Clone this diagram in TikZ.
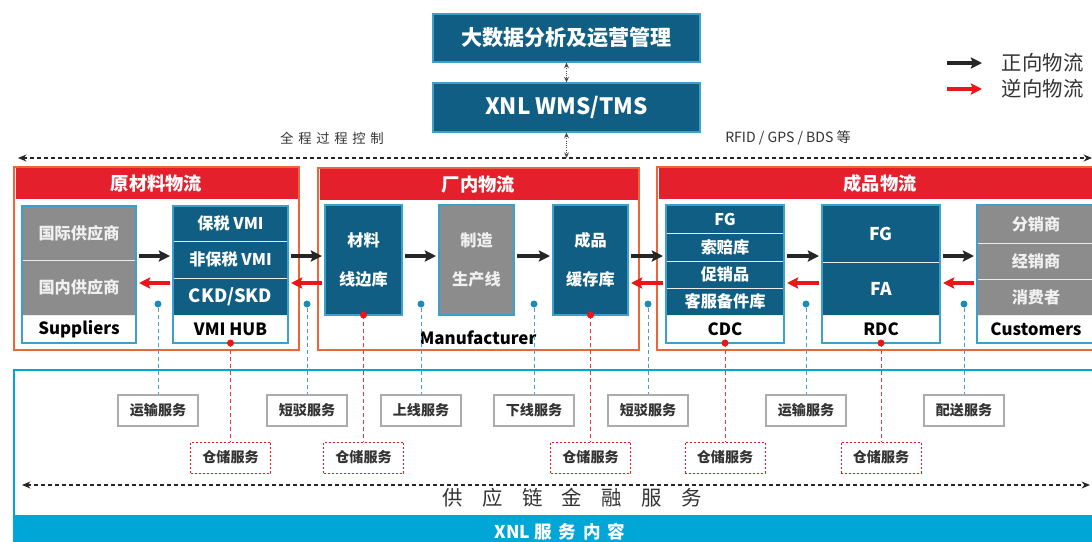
\documentclass[tikz,border=0pt]{standalone}
\usepackage{fontspec}
\setmainfont{Noto Sans CJK SC}
\usetikzlibrary{shapes, arrows, arrows.meta, positioning}

\newdimen\pxu
\pxu=0.025cm

\definecolor{navy}{RGB}{16,94,131}
\definecolor{boxgray}{RGB}{140,140,140}
\definecolor{headred}{RGB}{228,32,44}
\definecolor{rim}{RGB}{237,102,57}
\definecolor{edge}{RGB}{60,160,205}
\definecolor{band}{RGB}{0,166,214}
\definecolor{dotblue}{RGB}{27,139,184}
\definecolor{backred}{RGB}{236,22,22}
\definecolor{txtgray}{RGB}{51,51,51}

\tikzset{
  cell/.style={draw=white!85!gray, line width=0.6pt, inner sep=0pt, outer sep=0pt,
    text=white, font=\bfseries\fontsize{11.5}{13}\selectfont},
  bluecell/.style={cell, fill=navy},
  graycell/.style={cell, fill=boxgray, text=white!94!black},
  namecell/.style={cell, fill=white, text=black, font=\bfseries\fontsize{12}{14}\selectfont},
  frame/.style={draw=edge, line width=0.8pt},
  topbox/.style={fill=navy, draw=edge, line width=0.8pt, minimum width=267\pxu,
    text=white, font=\bfseries\fontsize{15}{17}\selectfont},
  panel/.style={draw=rim, line width=1.2pt, inner sep=0pt},
  header/.style={fill=headred, text=white, inner sep=0pt, minimum height=31\pxu,
    font=\bfseries\fontsize{13}{15}\selectfont},
  fwd/.style={line width=2.5pt, black!85, shorten <=3\pxu, shorten >=3\pxu,
    -{Stealth[length=8pt, width=8pt, inset=1.5pt]}},
  back/.style={fwd, backred},
  ctrl/.style={line width=0.8pt, dash pattern=on 4\pxu off 3\pxu, black!85,
    {Stealth[length=6pt, width=5pt]}-{Stealth[length=6pt, width=5pt]}},
  link/.style={densely dotted, line width=0.6pt, black!70,
    {Stealth[length=4pt, width=3.5pt]}-{Stealth[length=4pt, width=3.5pt]}},
  note/.style={text=txtgray, font=\fontsize{9.5}{11}\selectfont},
  legend/.style={text=txtgray, anchor=west, font=\fontsize{14.5}{16}\selectfont},
  bdot/.style={circle, fill=dotblue, inner sep=0pt, minimum size=7\pxu},
  rdot/.style={circle, fill=backred, inner sep=0pt, minimum size=7\pxu},
  bline/.style={draw=dotblue!80, line width=0.7pt, dash pattern=on 4\pxu off 3\pxu},
  rline/.style={draw=backred!85, line width=0.7pt, dash pattern=on 4\pxu off 3\pxu},
  svc/.style={draw=gray!65, line width=1pt, fill=white, minimum width=80\pxu,
    minimum height=31\pxu, text=txtgray, font=\bfseries\fontsize{10}{12}\selectfont},
  store/.style={svc, draw=backred, line width=0.7pt, dash pattern=on 2\pxu off 2\pxu}
}

\begin{document}
\begin{tikzpicture}[x=0.025cm, y=-0.025cm]
\useasboundingbox[fill=white] (0,0) rectangle (1092,541);

\node[topbox, minimum height=48\pxu] (bigdata) at (566.5,38) {大数据分析及运营管理};
\node[topbox, minimum height=49\pxu, font=\bfseries\fontsize{16}{18}\selectfont] (wms) at (566.5,107.5) {XNL WMS/TMS};
\coordinate (ctrlL) at (18,158);
\coordinate (ctrlR) at (1092,158);
\draw[ctrl] (ctrlL) -- (ctrlR);
\draw[link] (bigdata) -- (wms);
\draw[link] (wms) -- (wms.south |- ctrlL);
\node[note] (ctrlnote) at (332,138) {\addfontfeature{LetterSpace=35}全程过程控制};
\node[note, font=\fontsize{10}{12}\selectfont] (technote) at (788,138) {RFID / GPS / BDS 等};

\coordinate (fwdA) at (947,63);
\coordinate (fwdB) at (982,63);
\coordinate (backA) at (947,89);
\coordinate (backB) at (982,89);
\draw[fwd, shorten <=0pt, shorten >=0pt] (fwdA) -- (fwdB);
\draw[back, shorten <=0pt, shorten >=0pt] (backA) -- (backB);
\node[legend] (fwdtext) at (997,63) {正向物流};
\node[legend] (backtext) at (997,89) {逆向物流};

\node[panel, minimum width=285\pxu, minimum height=183\pxu] (rawpanel) at (156.5,258.5) {};
\node[header, minimum width=282\pxu, below=1.5\pxu of rawpanel.north] (rawhead) {原材料物流};
\node[panel, minimum width=321\pxu, minimum height=182\pxu] (plantpanel) at (478.5,259) {};
\node[header, minimum width=318\pxu, below=1.5\pxu of plantpanel.north] (planthead) {厂内物流};
\node[panel, minimum width=446\pxu, minimum height=183\pxu] (goodspanel) at (880,258.5) {};
\node[header, minimum width=443\pxu, below=1.5\pxu of goodspanel.north] (goodshead) {成品物流};

\node[graycell, minimum width=114\pxu, minimum height=54\pxu] (sup1) at (79,233) {国际供应商};
\node[graycell, minimum width=114\pxu, minimum height=55\pxu, below=0pt of sup1] (sup2) {国内供应商};
\node[namecell, minimum width=114\pxu, minimum height=28\pxu, below=0pt of sup2] (supN) {Suppliers};
\draw[frame] (sup1.north west) rectangle (supN.south east);

\node[bluecell, minimum width=115\pxu, minimum height=35\pxu] (vmi1) at (230.5,223.5) {保税 VMI};
\node[bluecell, minimum width=115\pxu, minimum height=37\pxu, below=0pt of vmi1] (vmi2) {非保税 VMI};
\node[bluecell, minimum width=115\pxu, minimum height=37\pxu, below=0pt of vmi2,
      font=\bfseries\fontsize{13}{15}\selectfont] (vmi3) {CKD/SKD};
\node[namecell, minimum width=115\pxu, minimum height=28\pxu, below=0pt of vmi3] (vmiN) {VMI HUB};
\draw[frame] (vmi1.north west) rectangle (vmiN.south east);

\node[bluecell, frame, minimum width=77\pxu, minimum height=110\pxu, align=center,
      font=\bfseries\fontsize{11.5}{28}\selectfont] (mat) at (363.5,260) {材料\\线边库};
\node[graycell, frame, minimum width=75\pxu, minimum height=110\pxu, align=center,
      font=\bfseries\fontsize{11.5}{28}\selectfont] (mfg) at (476.5,260) {制造\\生产线};
\node[bluecell, frame, minimum width=75\pxu, minimum height=110\pxu, align=center,
      font=\bfseries\fontsize{11.5}{28}\selectfont] (fgb) at (590.5,260) {成品\\缓存库};
\node[font=\bfseries\fontsize{12}{14}\selectfont] (mfr) at (478,338) {Manufacturer};

\node[bluecell, minimum width=118\pxu, minimum height=28\pxu] (cdc1) at (725,219) {FG};
\node[bluecell, minimum width=118\pxu, minimum height=28\pxu, below=0pt of cdc1] (cdc2) {索赔库};
\node[bluecell, minimum width=118\pxu, minimum height=27\pxu, below=0pt of cdc2] (cdc3) {促销品};
\node[bluecell, minimum width=118\pxu, minimum height=27\pxu, below=0pt of cdc3] (cdc4) {客服备件库};
\node[namecell, minimum width=118\pxu, minimum height=28\pxu, below=0pt of cdc4] (cdcN) {CDC};
\draw[frame] (cdc1.north west) rectangle (cdcN.south east);

\node[bluecell, minimum width=118\pxu, minimum height=57\pxu,
      font=\bfseries\fontsize{12.5}{14}\selectfont] (rdc1) at (881,233.5) {FG};
\node[bluecell, minimum width=118\pxu, minimum height=53\pxu, below=0pt of rdc1,
      font=\bfseries\fontsize{12.5}{14}\selectfont] (rdc2) {FA};
\node[namecell, minimum width=118\pxu, minimum height=28\pxu, below=0pt of rdc2] (rdcN) {RDC};
\draw[frame] (rdc1.north west) rectangle (rdcN.south east);

\node[graycell, minimum width=118\pxu, minimum height=38\pxu] (cus1) at (1036,224) {分销商};
\node[graycell, minimum width=118\pxu, minimum height=36\pxu, below=0pt of cus1] (cus2) {经销商};
\node[graycell, minimum width=118\pxu, minimum height=36\pxu, below=0pt of cus2] (cus3) {消费者};
\node[namecell, minimum width=118\pxu, minimum height=28\pxu, below=0pt of cus3] (cusN) {Customers};
\draw[frame] (cus1.north west) rectangle (cusN.south east);

\coordinate (fy) at (0,256);
\coordinate (ry) at (0,283);
\draw[fwd] (sup1.east |- fy) -- (vmi1.west |- fy);
\draw[back] (vmi1.west |- ry) -- (sup1.east |- ry);
\draw[fwd] (vmi1.east |- fy) -- (mat.west |- fy);
\draw[back] (mat.west |- ry) -- (vmi1.east |- ry);
\draw[fwd] (mat.east |- fy) -- (mfg.west |- fy);
\draw[fwd] (mfg.east |- fy) -- (fgb.west |- fy);
\draw[fwd] (fgb.east |- fy) -- (cdc1.west |- fy);
\draw[back] (cdc1.west |- ry) -- (fgb.east |- ry);
\draw[fwd] (cdc1.east |- fy) -- (rdc1.west |- fy);
\draw[back] (rdc1.west |- ry) -- (cdc1.east |- ry);
\draw[fwd] (rdc1.east |- fy) -- (cus1.west |- fy);
\draw[back] (cus1.west |- ry) -- (rdc1.east |- ry);

\draw[draw=band, line width=1.5pt] (14,560) -- (14,370) -- (1110,370);
\fill[band] (13,515) rectangle (1110,560);
\node[text=white, font=\bfseries\fontsize{12.5}{14}\selectfont] (xnl) at (560,532)
  {XNL {\addfontfeature{LetterSpace=40}服务内容}};
\coordinate (finL) at (22,485);
\coordinate (finR) at (1090,485);
\draw[ctrl] (finL) -- (finR);
\node[text=txtgray, font=\fontsize{14.5}{16}\selectfont] (fin) at (572,498)
  {\addfontfeature{LetterSpace=95}供应链金融服务};

\node[bdot] (bd1) at (158,304) {};
\node[bdot] (bd2) at (307,304) {};
\node[bdot] (bd3) at (421,304) {};
\node[bdot] (bd4) at (534,304) {};
\node[bdot] (bd5) at (648,304) {};
\node[bdot] (bd6) at (806,304) {};
\node[bdot] (bd7) at (964,304) {};
\node[svc] (svc1) at (158,410.5) {运输服务};
\node[svc] (svc2) at (307,410.5) {短驳服务};
\node[svc] (svc3) at (421,410.5) {上线服务};
\node[svc] (svc4) at (534,410.5) {下线服务};
\node[svc] (svc5) at (648,410.5) {短驳服务};
\node[svc] (svc6) at (806,410.5) {运输服务};
\node[svc] (svc7) at (964,410.5) {配送服务};
\draw[bline] (bd1) -- (svc1);
\draw[bline] (bd2) -- (svc2);
\draw[bline] (bd3) -- (svc3);
\draw[bline] (bd4) -- (svc4);
\draw[bline] (bd5) -- (svc5);
\draw[bline] (bd6) -- (svc6);
\draw[bline] (bd7) -- (svc7);

\node[store] (sto1) at (230.5,457.5) {仓储服务};
\node[store] (sto2) at (363.5,457.5) {仓储服务};
\node[store] (sto3) at (590.5,457.5) {仓储服务};
\node[store] (sto4) at (725,457.5) {仓储服务};
\node[store] (sto5) at (881,457.5) {仓储服务};
\draw[rline] (vmiN.south) -- (sto1);
\draw[rline] (mat.south) -- (sto2);
\draw[rline] (fgb.south) -- (sto3);
\draw[rline] (cdcN.south) -- (sto4);
\draw[rline] (rdcN.south) -- (sto5);
\node[rdot] (rd1) at (vmiN.south) {};
\node[rdot] (rd2) at (mat.south) {};
\node[rdot] (rd3) at (fgb.south) {};
\node[rdot] (rd4) at (cdcN.south) {};
\node[rdot] (rd5) at (rdcN.south) {};
\end{tikzpicture}
\end{document}
